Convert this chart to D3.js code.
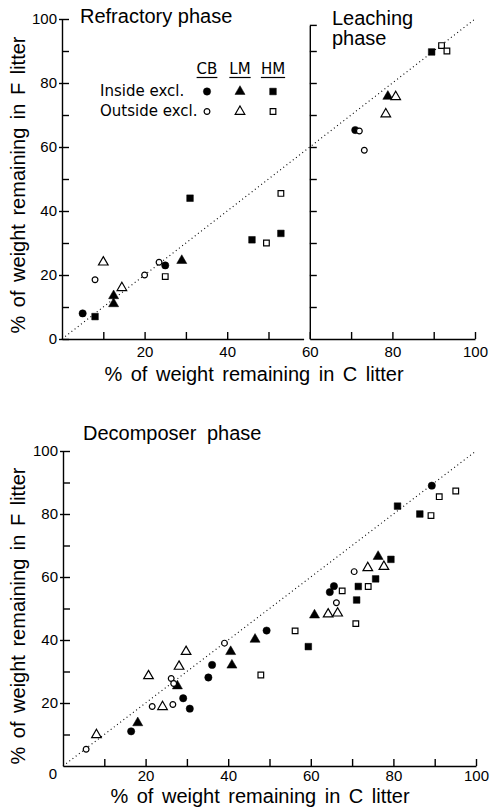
<!DOCTYPE html>
<meta charset="utf-8">
<script src="https://d3js.org/d3.v7.min.js"></script>
<style>
    body { margin: 0; background: #fff; }
    svg { font-family: "Liberation Sans", Arial, sans-serif; }
    .axis path, .axis line { stroke: #000; stroke-width: 1.4; }
    .axis text { font-size: 15px; fill: #000; font-family: "Liberation Sans", Arial, sans-serif; }
    .diag { fill: none; stroke: #000; stroke-width: 1.1; stroke-dasharray: 1,3; }
    .title { font-size: 20px; }
    .alabel { font-size: 20px; word-spacing: 3px; }
    .legend { font-size: 15px; font-family: "DejaVu Sans", sans-serif; }
</style>
<body>
<svg width="490" height="811"></svg>
<script>
    // Refractory phase (top left)
    const refCBIn = [[5, 8], [25, 23]];
    const refCBOut = [[8, 18.5], [20, 20], [23.5, 24]];
    const refLMIn = [[12.5, 13.5], [12.5, 11], [29, 24.5]];
    const refLMOut = [[10, 24], [14.5, 16]];
    const refHMIn = [[8, 7], [31, 44], [46, 31], [53, 33]];
    const refHMOut = [[25, 19.5], [49.5, 30], [53, 45.5]];

    // Leaching phase (top right)
    const leaCBIn = [[71, 65.3]];
    const leaCBOut = [[72, 65], [73.2, 59]];
    const leaLMIn = [[78.9, 75.8]];
    const leaLMOut = [[80.8, 75.7], [78.4, 70.3]];
    const leaHMIn = [[89.5, 89.7]];
    const leaHMOut = [[91.9, 91.7], [93.2, 90]];

    // Decomposer phase (bottom)
    const decCBIn = [[16.5, 11], [29.1, 21.5], [30.7, 18.2], [35.2, 28.1], [36.1, 32.1], [49.3, 43], [64.6, 55.2], [65.6, 57.1], [89.3, 89]];
    const decCBOut = [[5.6, 5.3], [21.6, 18.9], [26.6, 19.5], [26.2, 27.8], [26.8, 26.2], [39.1, 39], [66.2, 51.8], [70.5, 61.7]];
    const decLMIn = [[18.1, 13.7], [27.7, 25.4], [40.6, 36.3], [40.9, 32], [46.5, 40.2], [60.9, 47.9], [76.3, 66.5]];
    const decLMOut = [[8.1, 9.9], [20.7, 28.6], [24.1, 18.8], [28.1, 31.6], [29.8, 36.3], [64.2, 48.2], [66.5, 48.5], [73.8, 62.9], [77.7, 63.3]];
    const decHMIn = [[59.4, 37.9], [71.1, 52.7], [71.5, 57], [75.7, 59.4], [79.4, 65.6], [81, 82.5], [86.4, 80]];
    const decHMOut = [[47.9, 28.9], [56.2, 42.9], [67.6, 55.6], [70.9, 45.2], [73.9, 57], [89.1, 79.5], [91.1, 85.5], [95.1, 87.3]];

    const litters = ['CB', 'LM', 'HM'];
    const rows = ['Inside excl.', 'Outside excl.'];
    const tickVals = [10, 20, 30, 40, 50, 60, 70, 80, 90, 100];
    const diag = [0, 100];

    const xTitle = '% of weight remaining in C litter';
    const yTitle = '% of weight remaining in F litter';

    const svg = d3.select('svg');

    const xTop = d3.scaleLinear().domain([0, 100]).range([62, 475]);
    const yTop = d3.scaleLinear().domain([0, 100]).range([339, 19]);
    const xBot = d3.scaleLinear().domain([0, 100]).range([63, 476]);
    const yBot = d3.scaleLinear().domain([0, 100]).range([766, 451]);

    const leftEnd = 58.5;
    const xLeft = d3.scaleLinear().domain([0, leftEnd]).range([xTop(0), xTop(leftEnd)]);
    const xRight = d3.scaleLinear().domain([60, 100]).range([xTop(60), xTop(100)]);
    const yRight = d3.scaleLinear().domain([0, 98]).range([yTop(0), yTop(98)]);

    const lbl = d => (d % 20 === 0 ? d : '');

    function majorOut(g) {
        g.selectAll('.tick line').attr('x1', d => (d % 20 === 0 ? -3 : 0));
    }

    // top left axes
    svg.append('g').attr('class', 'axis')
        .attr('transform', 'translate(' + xTop(0) + ',0)')
        .call(d3.axisLeft(yTop).tickValues([0].concat(tickVals)).tickSize(-7).tickSizeOuter(0).tickPadding(5).tickFormat(lbl))
        .call(majorOut);
    svg.append('g').attr('class', 'axis')
        .attr('transform', 'translate(0,' + yTop(0) + ')')
        .call(d3.axisBottom(xLeft).tickValues([10, 20, 30, 40, 50]).tickSize(-7).tickSizeOuter(0).tickPadding(7).tickFormat(lbl));

    // top right axes
    svg.append('g').attr('class', 'axis')
        .attr('transform', 'translate(' + xTop(60) + ',0)')
        .call(d3.axisLeft(yRight).tickValues(tickVals.slice(0, 9)).tickSize(-7).tickSizeOuter(0).tickFormat(''));
    svg.append('line')
        .attr('x1', xTop(60)).attr('x2', xTop(60) + 7)
        .attr('y1', yRight(98)).attr('y2', yRight(98))
        .attr('stroke', '#000').attr('stroke-width', 1.4);
    svg.append('g').attr('class', 'axis')
        .attr('transform', 'translate(0,' + yTop(0) + ')')
        .call(d3.axisBottom(xRight).tickValues([60, 70, 80, 90, 100]).tickSize(-7).tickSizeOuter(0).tickPadding(7).tickFormat(lbl));

    // bottom axes
    svg.append('g').attr('class', 'axis')
        .attr('transform', 'translate(' + xBot(0) + ',0)')
        .call(d3.axisLeft(yBot).tickValues(tickVals).tickSize(-7).tickSizeOuter(0).tickPadding(5).tickFormat(lbl))
        .call(majorOut);
    svg.append('g').attr('class', 'axis')
        .attr('transform', 'translate(0,' + yBot(0) + ')')
        .call(d3.axisBottom(xBot).tickValues(tickVals).tickSize(-7).tickSizeOuter(0).tickPadding(4).tickFormat(lbl));
    svg.append('text')
        .attr('x', xBot(0) - 10).attr('y', yBot(0) + 13)
        .attr('text-anchor', 'middle')
        .style('font-size', '15px')
        .text('0');

    // 1:1 lines
    svg.append('path').attr('class', 'diag')
        .attr('d', d3.line().x(d => xTop(d)).y(d => yTop(d))(diag));
    svg.append('path').attr('class', 'diag')
        .attr('d', d3.line().x(d => xBot(d)).y(d => yBot(d))(diag));

    // symbols
    const shapes = { CB: d3.symbolCircle, LM: d3.symbolTriangle, HM: d3.symbolSquare };
    const sizes = {
        CB: { fill: 42, open: 26 },
        LM: { fill: 44, open: 40 },
        HM: { fill: 44, open: 32 },
    };

    function mark(sel, litter, filled) {
        sel.attr('d', d3.symbol().type(shapes[litter]).size(sizes[litter][filled ? 'fill' : 'open']))
            .attr('fill', filled ? '#000' : '#fff')
            .attr('stroke', '#000')
            .attr('stroke-width', filled ? 0.5 : 1.2);
    }

    function plot(data, x, y, litter, filled) {
        svg.append('g').selectAll('path')
            .data(data)
            .enter()
            .append('path')
            .attr('transform', d => 'translate(' + x(d[0]) + ',' + y(d[1]) + ')')
            .call(mark, litter, filled);
    }

    const panels = [
        { x: xTop, y: yTop, sets: { CB: [refCBIn, refCBOut], LM: [refLMIn, refLMOut], HM: [refHMIn, refHMOut] } },
        { x: xTop, y: yTop, sets: { CB: [leaCBIn, leaCBOut], LM: [leaLMIn, leaLMOut], HM: [leaHMIn, leaHMOut] } },
        { x: xBot, y: yBot, sets: { CB: [decCBIn, decCBOut], LM: [decLMIn, decLMOut], HM: [decHMIn, decHMOut] } },
    ];
    panels.forEach(p => {
        litters.forEach(l => plot(p.sets[l][0], p.x, p.y, l, true));
        litters.forEach(l => plot(p.sets[l][1], p.x, p.y, l, false));
    });

    // titles
    svg.append('text').attr('class', 'title').attr('x', 80).attr('y', 23).text('Refractory phase');
    svg.append('text').attr('class', 'title').attr('x', 332).attr('y', 25).text('Leaching');
    svg.append('text').attr('class', 'title').attr('x', 332).attr('y', 45).text('phase');
    svg.append('text').attr('class', 'title').attr('x', 83).attr('y', 440)
        .style('word-spacing', '5px').text('Decomposer phase');

    // axis titles
    svg.append('text').attr('class', 'alabel').attr('x', 254).attr('y', 381)
        .attr('text-anchor', 'middle').text(xTitle);
    svg.append('text').attr('class', 'alabel').attr('x', 260).attr('y', 803)
        .attr('text-anchor', 'middle').text(xTitle);
    svg.append('text').attr('class', 'alabel')
        .attr('transform', 'translate(25,185) rotate(-90)')
        .attr('text-anchor', 'middle').text(yTitle);
    svg.append('text').attr('class', 'alabel')
        .attr('transform', 'translate(25,616) rotate(-90)')
        .attr('text-anchor', 'middle').text(yTitle);

    // legend
    const legX = { CB: 207, LM: 240, HM: 273 };
    const leg = svg.append('g').attr('class', 'legend');
    litters.forEach(l => {
        const t = leg.append('text').attr('x', legX[l]).attr('y', 74)
            .attr('text-anchor', 'middle').text(l);
        const w = t.node().getComputedTextLength();
        leg.append('line')
            .attr('x1', legX[l] - w / 2).attr('x2', legX[l] + w / 2)
            .attr('y1', 77.5).attr('y2', 77.5)
            .attr('stroke', '#000').attr('stroke-width', 1.2);
    });
    rows.forEach((r, i) => {
        const yy = 96 + i * 20;
        leg.append('text').attr('x', 100).attr('y', yy).text(r);
        litters.forEach(l => {
            leg.append('path')
                .attr('transform', 'translate(' + legX[l] + ',' + (yy - 4.5) + ')')
                .call(mark, l, i === 0);
        });
    });
</script>
</body>
